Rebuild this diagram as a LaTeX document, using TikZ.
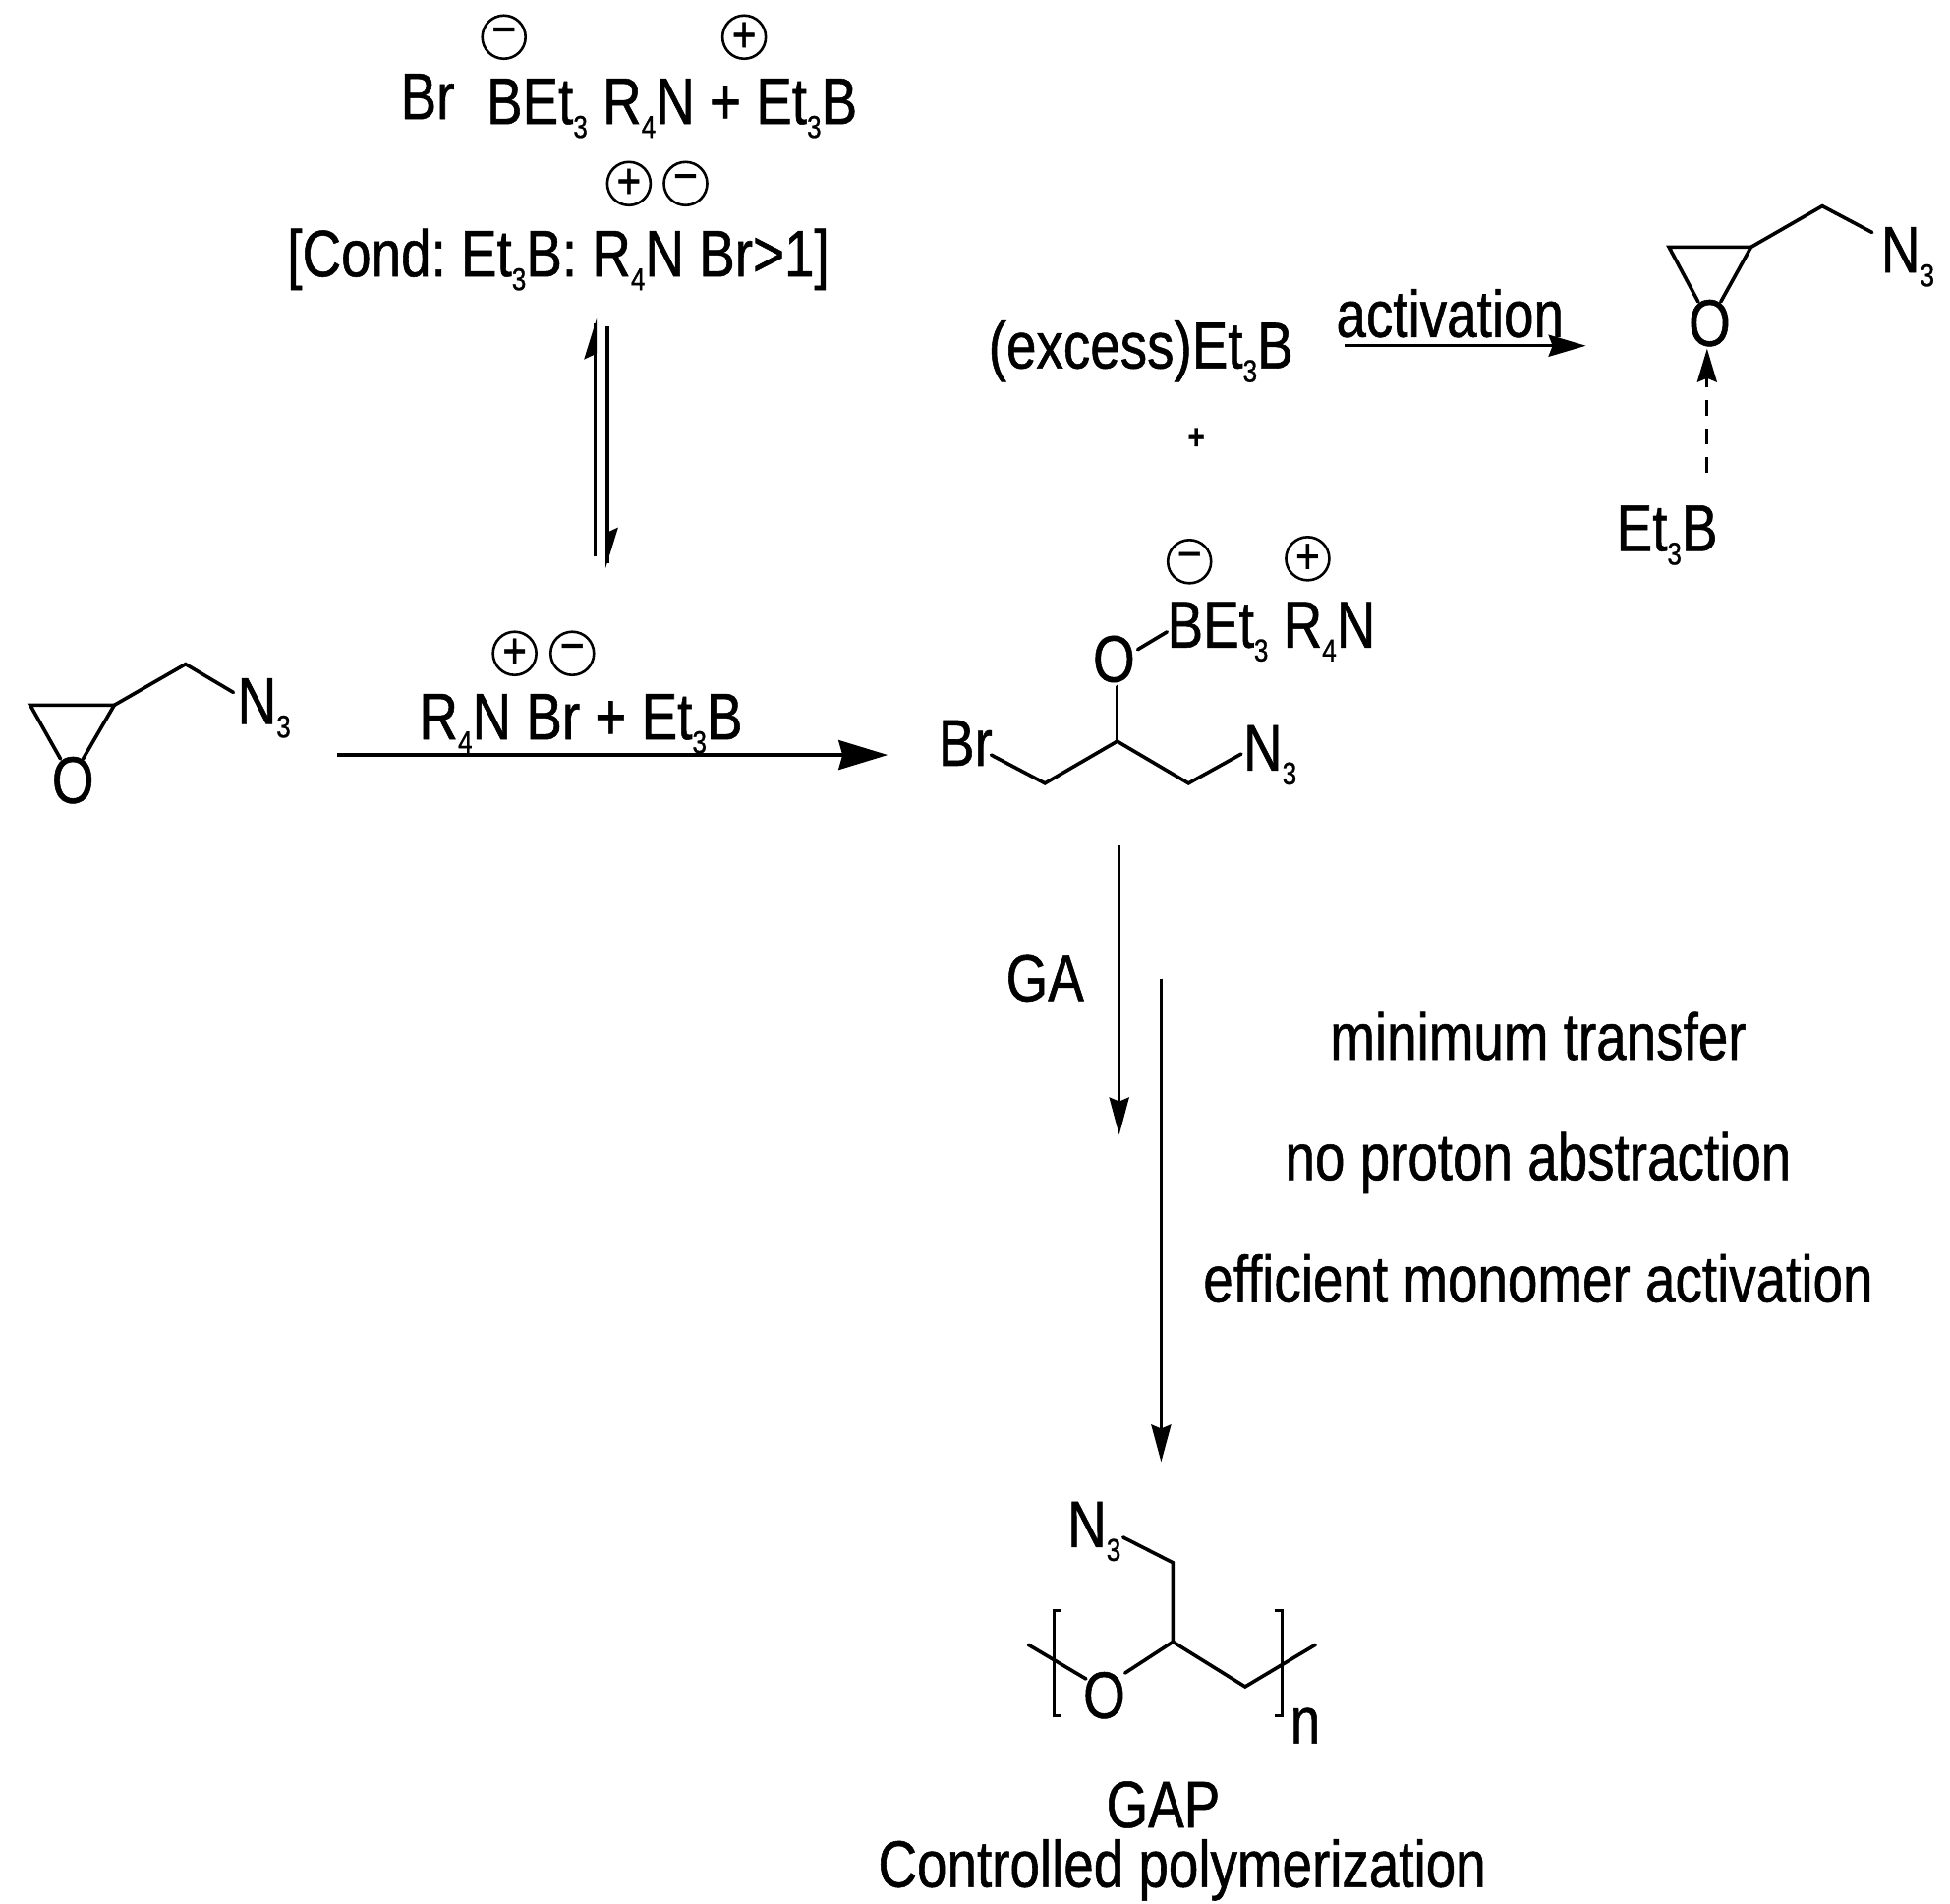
\documentclass[tikz,border=0pt]{standalone}
\usepackage{fontspec}
\setmainfont{Liberation Sans}[FakeStretch=0.818,FakeBold=0.8]
\usetikzlibrary{arrows.meta}
\newcommand{\subd}[1]{\raisebox{-14pt}{\fontsize{32}{34}\selectfont #1}}
\frenchspacing
\tikzset{
  lbl/.style={anchor=base west,inner sep=0pt,font=\fontsize{67}{72}\selectfont},
  ctr/.style={anchor=base,inner sep=0pt,font=\fontsize{67}{72}\selectfont},
  chg/.style={circle,draw,line width=2.6pt,minimum size=44pt,inner sep=0pt,font=\fontsize{52}{54}\selectfont},
  bond/.style={line width=3.6pt,line join=miter,line cap=round},
  brk/.style={line width=3pt},
  arrowbig/.style={line width=3.4pt,-{Stealth[length=50pt,width=30pt,inset=4pt]}},
  arrowmid/.style={line width=3.4pt,-{Stealth[length=38pt,width=22pt,inset=4pt]}},
  arrowthin/.style={line width=3.4pt,-{Stealth[length=38pt,width=20pt,inset=4pt]}},
  arrowdash/.style={line width=2.8pt,dash pattern=on 16pt off 13pt,-{Stealth[length=34pt,width=20pt,inset=4pt]}},
  halfline/.style={line width=3.2pt},
}
\begin{document}
\begin{tikzpicture}[x=0.9936pt,y=-0.9936pt]
\useasboundingbox (0pt,0pt) rectangle (1984pt,-1937pt);
% top group
\node[chg] (t1) at (516,38) {−};
\node[chg] (t2) at (762,38) {+};
\node[lbl] (tbr) at (410,122) {Br};
\node[lbl] (tline) at (498,127) {BEt\subd{3} R\subd{4}N + Et\subd{3}B};
\node[chg] (t3) at (644,188) {+};
\node[chg] (t4) at (702,188) {−};
\node[lbl] (cond) at (294,283) {[Cond: Et\subd{3}B: R\subd{4}N Br>1]};
% equilibrium
\coordinate (eq1a) at (609,570);
\coordinate (eq1b) at (609,331);
\draw[halfline] (eq1a) -- (eq1b);
\fill (611,326) -- (598,368) -- (611,362) -- cycle;
\coordinate (eq2a) at (622,334);
\coordinate (eq2b) at (622,577);
\draw[halfline] (eq2a) -- (eq2b);
\fill (620,582) -- (633,540) -- (620,546) -- cycle;
% left epoxide
\node[lbl] (lo) at (53,822) {O};
\node[lbl] (ln) at (243,741) {N\subd{3}};
\coordinate (la) at (31,722);
\coordinate (lb) at (117,722);
\coordinate (lc) at (190,680);
\coordinate (ld) at (239,709);
\coordinate (loa) at (62,777);
\coordinate (lob) at (85,777);
\draw[bond] (loa) -- (la) -- (lb) -- (lob);
\draw[bond] (lb) -- (lc) -- (ld);
% reagent and main arrow
\node[chg] (m1) at (527,669) {+};
\node[chg] (m2) at (586,669) {−};
\node[lbl] (reag) at (429,757) {R\subd{4}N Br + Et\subd{3}B};
\coordinate (a1s) at (345,773);
\coordinate (a1e) at (909,773);
\draw[arrowbig] (a1s) -- (a1e);
% ring-opened product
\node[chg] (p1) at (1218,575) {−};
\node[chg] (p2) at (1339,572) {+};
\node[lbl] (pb) at (1195,663) {BEt\subd{3} R\subd{4}N};
\node[lbl] (po) at (1119,698) {O};
\node[lbl] (pbr) at (961,784) {Br};
\node[lbl] (pn) at (1273,789) {N\subd{3}};
\coordinate (pa) at (1015,773);
\coordinate (pc) at (1070,802);
\coordinate (pd) at (1144,759);
\coordinate (pe) at (1217,802);
\coordinate (pf) at (1271,772);
\coordinate (poa) at (1144,703);
\coordinate (pob) at (1165,665);
\coordinate (poc) at (1195,647);
\draw[bond] (pa) -- (pc) -- (pd) -- (pe) -- (pf);
\draw[bond] (pd) -- (poa);
\draw[bond] (pob) -- (poc);
% excess / activation
\node[lbl] (exc) at (1012,377) {(excess)Et\subd{3}B};
\node[lbl] (act) at (1368,345) {activation};
\coordinate (a2s) at (1377,354);
\coordinate (a2e) at (1624,354);
\draw[arrowmid] (a2s) -- (a2e);
\node[anchor=center,inner sep=0pt,font=\fontsize{36}{38}\selectfont\bfseries] (pl) at (1225,449) {+};
% right epoxide
\node[lbl] (ro) at (1729,354) {O};
\node[lbl] (rn) at (1926,279) {N\subd{3}};
\coordinate (ra) at (1709,253);
\coordinate (rb) at (1793,253);
\coordinate (rc) at (1866,211);
\coordinate (rd) at (1917,238);
\coordinate (roa) at (1739,309);
\coordinate (rob) at (1762,309);
\draw[bond] (roa) -- (ra) -- (rb) -- (rob);
\draw[bond] (rb) -- (rc) -- (rd);
\coordinate (ds) at (1748,484);
\coordinate (de) at (1748,357);
\draw[arrowdash] (ds) -- (de);
\node[lbl] (reb) at (1655,564) {Et\subd{3}B};
% GA and side arrows
\coordinate (gs) at (1146,866);
\coordinate (ge) at (1146,1162);
\draw[arrowthin] (gs) -- (ge);
\node[lbl] (ga) at (1030,1025) {GA};
\coordinate (ls) at (1189,1002);
\coordinate (le) at (1189,1497);
\draw[arrowthin] (ls) -- (le);
\node[ctr] (t1x) at (1575,1085) {minimum transfer};
\node[ctr] (t2x) at (1575,1208) {no proton abstraction};
\node[ctr] (t3x) at (1575,1333) {efficient monomer activation};
% polymer
\node[lbl] (gn) at (1093,1584) {N\subd{3}};
\node[lbl] (go) at (1109,1759) {O};
\node[lbl] (gnn) at (1321,1785) {n};
\coordinate (g1) at (1150,1574);
\coordinate (g2) at (1201,1600);
\coordinate (g3) at (1201,1681);
\coordinate (g4) at (1152,1713);
\coordinate (g5) at (1275,1727);
\coordinate (g6) at (1347,1684);
\coordinate (g7) at (1053,1684);
\coordinate (g8) at (1112,1719);
\draw[bond] (g1) -- (g2) -- (g3) -- (g4);
\draw[bond] (g3) -- (g5) -- (g6);
\draw[bond] (g7) -- (g8);
\coordinate (bl1) at (1087,1649);
\coordinate (bl2) at (1079,1649);
\coordinate (bl3) at (1079,1757);
\coordinate (bl4) at (1087,1757);
\coordinate (br1) at (1305,1649);
\coordinate (br2) at (1313,1649);
\coordinate (br3) at (1313,1757);
\coordinate (br4) at (1305,1757);
\draw[brk] (bl1) -- (bl2) -- (bl3) -- (bl4);
\draw[brk] (br1) -- (br2) -- (br3) -- (br4);
\node[ctr] (gap) at (1191,1871) {GAP};
\node[lbl] (ctrl) at (899,1932) {Controlled polymerization};
\end{tikzpicture}
\end{document}
